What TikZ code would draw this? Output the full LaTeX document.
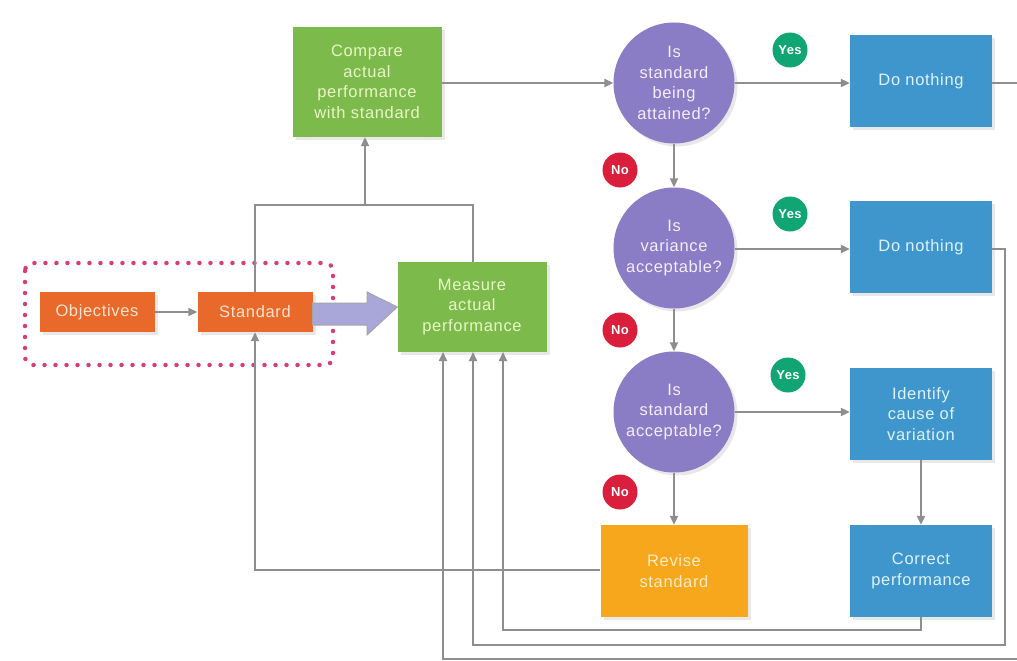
\documentclass[tikz,border=0pt]{standalone}
\usepackage{fontspec}
\setmainfont{Liberation Sans}[LetterSpace=4]
\usetikzlibrary{arrows.meta,shadows,calc}
\definecolor{cOrange}{HTML}{E8692A}
\definecolor{cGreen}{HTML}{7CBA4B}
\definecolor{cPurple}{HTML}{8B7CC6}
\definecolor{cBlue}{HTML}{3F96CC}
\definecolor{cGold}{HTML}{F6A71B}
\definecolor{cYes}{HTML}{10A572}
\definecolor{cNo}{HTML}{DA1F3D}
\definecolor{cLine}{HTML}{8E8E8E}
\definecolor{cLav}{HTML}{A9A6DA}
\definecolor{cDot}{HTML}{D83C78}
\definecolor{tOrange}{HTML}{FBE3CF}
\definecolor{tGreen}{HTML}{E9F6C6}
\definecolor{tBlue}{HTML}{DDF2FA}
\definecolor{tPurple}{HTML}{F1EFFB}
\definecolor{tGold}{HTML}{FDEBC4}
\begin{document}
\begin{tikzpicture}[x=1pt,y=-1pt,
  txt/.style={font=\fontsize{16.5}{20.5}\selectfont, align=center, inner sep=0pt},
  boxbase/.style={txt, rectangle, drop shadow={opacity=0.18, shadow xshift=3pt, shadow yshift=-3pt}},
  orangebox/.style={boxbase, fill=cOrange, text=tOrange, minimum width=115, minimum height=40},
  greenbox/.style={boxbase, fill=cGreen, text=tGreen, minimum width=149},
  bluebox/.style={boxbase, fill=cBlue, text=tBlue, minimum width=142, minimum height=92},
  goldbox/.style={boxbase, fill=cGold, text=tGold, minimum width=147, minimum height=92},
  question/.style={txt, circle, fill=cPurple, text=tPurple, minimum size=121, drop shadow={opacity=0.18, shadow xshift=3pt, shadow yshift=-3pt}},
  badge/.style={circle, minimum size=35, inner sep=0pt, text=white, font=\fontsize{13}{13}\selectfont\bfseries},
  yesbadge/.style={badge, fill=cYes},
  nobadge/.style={badge, fill=cNo},
  conn/.style={draw=cLine, line width=2pt},
  arr/.style={conn, -{Triangle[width=8pt,length=9pt]}}
]
\useasboundingbox (0,0) rectangle (1017,661);
\clip (0,0) rectangle (1017,661);
\fill[white] (0,0) rectangle (1017,661);

% dotted frame
\draw[cDot, line width=4.5pt, line cap=round, dash pattern=on 0pt off 11pt, rounded corners=8pt]
  (25,263) rectangle (333,365);

% nodes
\node[orangebox] (obj) at (97,312) {Objectives};
\node[orangebox] (std) at (255,312) {Standard};
\node[greenbox, minimum height=90] (meas) at (472,307) {Measure\\actual\\performance};
\node[greenbox, minimum height=110] (comp) at (367,82) {Compare\\actual\\performance\\with standard};

\node[question] (q1) at (674,83) {Is\\standard\\being\\attained?};
\node[question] (q2) at (674,248) {Is\\variance\\acceptable?};
\node[question] (q3) at (674,412) {Is\\standard\\acceptable?};

\node[bluebox] (dn1) at (921,81) {Do nothing};
\node[bluebox] (dn2) at (921,247) {Do nothing};
\node[bluebox] (ident) at (921,414) {Identify\\cause of\\variation};
\node[bluebox] (corr) at (921,571) {Correct\\performance};
\node[goldbox] (rev) at (674,571) {Revise\\standard};

\node[yesbadge] (y1) at (790,50) {Yes};
\node[yesbadge] (y2) at (790,214) {Yes};
\node[yesbadge] (y3) at (788,375) {Yes};
\node[nobadge] (n1) at (620,170) {No};
\node[nobadge] (n2) at (620,330) {No};
\node[nobadge] (n3) at (620,492) {No};

% big arrow standard -> measure
\draw[draw=cLine!80, fill=cLav, line width=1pt, line join=miter]
  (std.east |- 0,303) -- (367,303) -- (367,292) -- (meas.west) -- (367,335) -- (367,325) -- (std.east |- 0,325) -- cycle;

% connectors
\draw[arr, line width=1.5pt] (obj) -- (std);
\coordinate (jl) at (255,205);
\coordinate (jc) at (365,205);
\draw[conn] (std.north) -- (jl) -- (473,205) -- (meas.north -| 473,0);
\draw[arr] (jc) -- (comp.south -| jc);
\draw[arr, line width=2.5pt] (comp.east |- q1.west) -- (q1.west);
\draw[arr] (q1.east) -- (dn1.west |- q1.east);
\draw[arr] (q1) -- (q2);
\draw[arr] (q2) -- (q3);
\draw[arr] (q3) -- (rev);
\draw[arr] (q2.east |- 0,249) -- (dn2.west |- 0,249);
\draw[arr] (q3.east |- 0,412) -- (ident.west |- 0,412);
\draw[arr] (ident) -- (corr);

\coordinate (m1) at (443,352);
\coordinate (m2) at (473,352);
\coordinate (m3) at (503,352);
\draw[arr] (dn1.east |- 0,83) -- (1030,83) |- (443,659) -- (m1);
\draw[arr] (dn2.east |- 0,249) -- (1005,249) |- (473,645) -- (m2);
\draw[arr] (corr.south) |- (503,630) -- (m3);
\draw[arr] (rev.west |- 0,570) -- (255,570) -- (std.south);
\end{tikzpicture}
\end{document}
